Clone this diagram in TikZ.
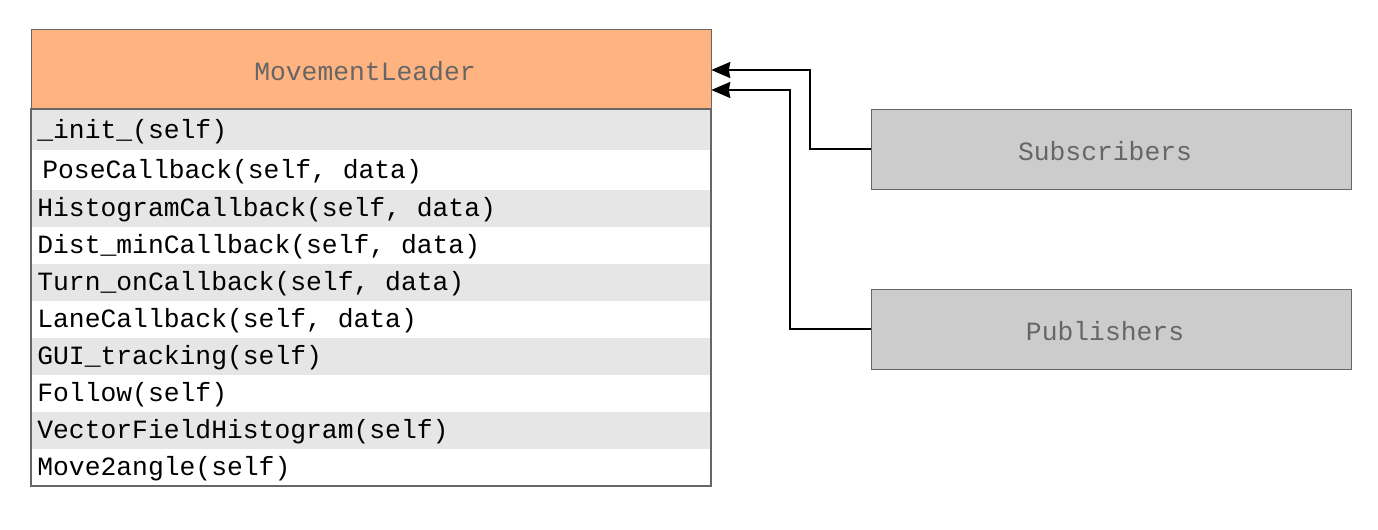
\documentclass[tikz,border=0pt]{standalone}
\usepackage{fontspec}
\usepackage{tikz}
\usetikzlibrary{arrows.meta}
\newfontfamily\codefont{Liberation Mono}
\definecolor{hdrorange}{HTML}{FFB380}
\definecolor{rowgray}{HTML}{E6E6E6}
\definecolor{boxgray}{HTML}{CCCCCC}
\definecolor{edgegray}{HTML}{666666}
\tikzset{
  hdr/.style={draw=edgegray, fill=hdrorange, minimum width=13.6cm, minimum height=1.6cm,
    inner sep=0pt, text=edgegray, font=\codefont\fontsize{15}{18}\selectfont},
  rolebox/.style={draw=edgegray, fill=boxgray, minimum width=9.6cm, minimum height=1.6cm,
    inner sep=0pt, text=edgegray, font=\codefont\fontsize{15}{18}\selectfont},
  method/.style={anchor=west, inner sep=0pt, font=\codefont\fontsize{15}{18}\selectfont},
  link/.style={draw=black, line width=1.1pt, -{Stealth[length=0.38cm,width=0.32cm,inset=0.03cm]}}
}

\begin{document}
\begin{tikzpicture}[x=0.02cm,y=-0.02cm]
\useasboundingbox (0,0) rectangle (1378,530);
% class box
\node[hdr] (leader) at (371,69) {};
\node[text=edgegray, font=\codefont\fontsize{15}{18}\selectfont] (leadername) at (365,71) {MovementLeader};
\fill[rowgray] (31,109) rectangle (711,150);
\fill[rowgray] (31,190) rectangle (711,227);
\fill[rowgray] (31,264) rectangle (711,301);
\fill[rowgray] (31,338) rectangle (711,375);
\fill[rowgray] (31,412) rectangle (711,449);
\draw[edgegray, line width=0.6pt] (31,109) rectangle (711,486);
\node[method] (init) at (37,132) {\_init\_(self)};
\node[method] (pose) at (42,172) {PoseCallback(self, data)};
\node[method] (histo) at (37,210) {HistogramCallback(self, data)};
\node[method] (distmin) at (37,247) {Dist\_minCallback(self, data)};
\node[method] (turnon) at (37,284) {Turn\_onCallback(self, data)};
\node[method] (lane) at (37,321) {LaneCallback(self, data)};
\node[method] (gui) at (37,358) {GUI\_tracking(self)};
\node[method] (follow) at (37,395) {Follow(self)};
\node[method] (vfh) at (37,432) {VectorFieldHistogram(self)};
\node[method] (move) at (37,469) {Move2angle(self)};
% topics
\node[rolebox] (subs) at (1111,149) {};
\node[text=edgegray, font=\codefont\fontsize{15}{18}\selectfont] (substext) at (1105,151) {Subscribers};
\node[rolebox] (pubs) at (1111,329) {};
\node[text=edgegray, font=\codefont\fontsize{15}{18}\selectfont] (pubstext) at (1105,331) {Publishers};
\draw[link] (subs.west) -- ++(-61,0) |- ([yshift=-0.02cm]leader.east);
\draw[link] (pubs.west) -- ++(-81,0) |- ([yshift=-0.42cm]leader.east);
\end{tikzpicture}
\end{document}
